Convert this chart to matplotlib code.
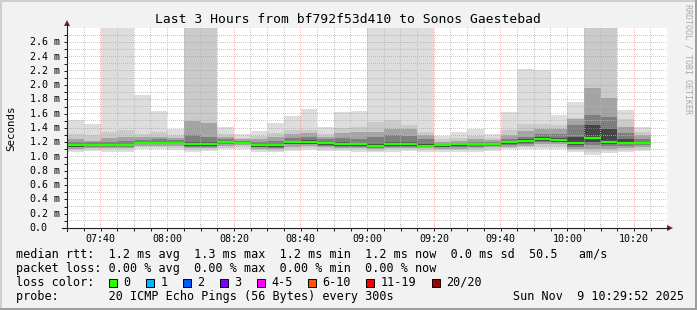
import matplotlib.pyplot as plt
import matplotlib.transforms as mtransforms
from matplotlib.lines import Line2D
from matplotlib.patches import Rectangle, Polygon
import numpy as np

plt.rcParams['font.family'] = 'DejaVu Sans Mono'

# --- data (ms), 5-minute buckets from 07:30 ---
bucket_count = 35
bucket_min = np.arange(bucket_count) * 5          # minutes after 07:30

ping_max = [1.51, 1.45, 3.2, 3.2, 1.86, 1.64, 1.38, 3.2, 3.2, 1.41, 1.31, 1.36, 1.47, 1.57, 1.67, 1.41, 1.62, 1.64,
            3.2, 3.2, 3.2, 3.2, 1.29, 1.34, 1.38, 1.32, 1.62, 2.22, 2.21, 1.58, 1.77, 3.2, 3.2, 1.65, 1.41]
ping_min = [1.06, 1.08, 1.07, 1.07, 1.10, 1.10, 1.09, 1.07, 1.08, 1.10, 1.10, 1.07, 1.06, 1.08, 1.09, 1.08, 1.08, 1.07,
            1.06, 1.07, 1.08, 1.07, 1.07, 1.07, 1.06, 1.08, 1.10, 1.10, 1.10, 1.11, 1.07, 1.02, 1.05, 1.06, 1.08]
p2_hi = [1.31, 1.30, 1.34, 1.37, 1.32, 1.34, 1.30, 3.2, 3.2, 1.31, 1.26, 1.29, 1.33, 1.37, 1.37, 1.31, 1.40, 1.42,
         1.49, 1.51, 1.44, 1.34, 1.24, 1.26, 1.29, 1.26, 1.37, 1.46, 1.46, 1.44, 1.54, 3.2, 3.2, 1.52, 1.34]
p2_lo = [1.09, 1.10, 1.10, 1.10, 1.13, 1.13, 1.12, 1.09, 1.10, 1.12, 1.13, 1.09, 1.08, 1.11, 1.12, 1.11, 1.10, 1.10,
         1.08, 1.10, 1.10, 1.09, 1.09, 1.09, 1.09, 1.11, 1.12, 1.13, 1.14, 1.14, 1.09, 1.06, 1.08, 1.09, 1.10]
p4_hi = [1.24, 1.22, 1.26, 1.28, 1.27, 1.28, 1.26, 1.50, 1.47, 1.27, 1.24, 1.24, 1.27, 1.31, 1.33, 1.27, 1.33, 1.34,
         1.34, 1.38, 1.38, 1.30, 1.21, 1.22, 1.24, 1.23, 1.30, 1.36, 1.38, 1.39, 1.52, 1.96, 1.82, 1.42, 1.30]
p4_lo = [1.11, 1.12, 1.12, 1.12, 1.15, 1.15, 1.15, 1.12, 1.12, 1.15, 1.16, 1.11, 1.10, 1.14, 1.15, 1.13, 1.12, 1.12,
         1.10, 1.12, 1.12, 1.12, 1.11, 1.11, 1.12, 1.13, 1.14, 1.15, 1.17, 1.17, 1.11, 1.10, 1.11, 1.12, 1.13]
p6_hi = [1.20, 1.20, 1.21, 1.22, 1.23, 1.24, 1.23, 1.30, 1.28, 1.24, 1.22, 1.20, 1.22, 1.26, 1.28, 1.24, 1.26, 1.25,
         1.27, 1.30, 1.29, 1.24, 1.18, 1.19, 1.20, 1.20, 1.25, 1.27, 1.31, 1.31, 1.44, 1.58, 1.55, 1.33, 1.25]
p6_lo = [1.13, 1.14, 1.14, 1.14, 1.17, 1.17, 1.17, 1.14, 1.14, 1.18, 1.18, 1.13, 1.12, 1.17, 1.17, 1.15, 1.14, 1.14,
         1.12, 1.14, 1.14, 1.13, 1.13, 1.13, 1.14, 1.15, 1.16, 1.17, 1.20, 1.20, 1.14, 1.16, 1.15, 1.15, 1.16]
p9_hi = [1.18, 1.18, 1.18, 1.18, 1.21, 1.21, 1.21, 1.20, 1.20, 1.22, 1.21, 1.18, 1.18, 1.22, 1.23, 1.21, 1.20, 1.19,
         1.18, 1.21, 1.21, 1.18, 1.17, 1.18, 1.19, 1.19, 1.22, 1.24, 1.27, 1.26, 1.28, 1.44, 1.38, 1.24, 1.21]
p9_lo = [1.13, 1.15, 1.15, 1.15, 1.17, 1.17, 1.17, 1.15, 1.15, 1.19, 1.18, 1.14, 1.13, 1.18, 1.17, 1.16, 1.15, 1.15,
         1.13, 1.15, 1.15, 1.14, 1.14, 1.15, 1.16, 1.16, 1.18, 1.19, 1.22, 1.21, 1.16, 1.20, 1.18, 1.17, 1.17]
median = [1.165, 1.165, 1.165, 1.165, 1.19, 1.19, 1.19, 1.175, 1.175, 1.20, 1.19, 1.16, 1.16, 1.20, 1.20, 1.19, 1.175, 1.17,
          1.15, 1.18, 1.18, 1.15, 1.16, 1.17, 1.18, 1.18, 1.20, 1.22, 1.25, 1.23, 1.19, 1.26, 1.21, 1.19, 1.19]

y_ticks = [0.0, 0.2, 0.4, 0.6, 0.8, 1.0, 1.2, 1.4, 1.6, 1.8, 2.0, 2.2, 2.4, 2.6]
y_minor = [0.1, 0.3, 0.5, 0.7, 0.9, 1.1, 1.3, 1.5, 1.7, 1.9, 2.1, 2.3, 2.5, 2.7]
x_ticks = [10, 30, 50, 70, 90, 110, 130, 150, 170]
x_minor = [m for m in range(5, 180, 5) if m not in x_ticks]
x_tick_labels = ['07:40', '08:00', '08:20', '08:40', '09:00', '09:20', '09:40', '10:00', '10:20']

loss_labels = ['0', '1', '2', '3', '4-5', '6-10', '11-19', '20/20']
loss_colors = ['#26ff00', '#00b8ff', '#0059ff', '#7e00ff', '#ff00ff', '#ff5500', '#ff0000', '#a00000']

title = 'Last 3 Hours from bf792f53d410 to Sonos Gaestebad'
line_rtt = 'median rtt:  1.2 ms avg  1.3 ms max  1.2 ms min  1.2 ms now  0.0 ms sd  50.5   am/s'
line_loss = 'packet loss: 0.00 % avg  0.00 % max  0.00 % min  0.00 % now'
line_probe = 'probe:       20 ICMP Echo Pings (56 Bytes) every 300s'
stamp = 'Sun Nov  9 10:29:52 2025'

# --- figure in pixel units ---
W, H = 697, 310
def fx(x):
    return x / W
def fy(y):
    return 1 - y / H

fig = plt.figure(figsize=(W / 100, H / 100), dpi=100, facecolor='#f2f2f2')

# frame shading
fig.add_artist(Rectangle((0, fy(2)), 1, 2 / H, transform=fig.transFigure, color='#cfcfcf', lw=0))
fig.add_artist(Rectangle((0, 0), 2 / W, 1, transform=fig.transFigure, color='#cfcfcf', lw=0))
fig.add_artist(Rectangle((0, 0), 1, 2 / H, transform=fig.transFigure, color='#9e9e9e', lw=0))
fig.add_artist(Rectangle((fx(W - 2), 0), 2 / W, 1, transform=fig.transFigure, color='#9e9e9e', lw=0))

x_left, x_right, y_top, y_bot = 67, 667, 28, 228
aw, ah = x_right - x_left, y_bot - y_top
ax = fig.add_axes([fx(x_left), fy(y_bot), aw / W, ah / H])
ax.set_facecolor('white')
xlim = (-8 / 60, 180 - 8 / 60)
ylim = (0, 2.8)
ax.set_xlim(*xlim)
ax.set_ylim(*ylim)
for s in ax.spines.values():
    s.set_visible(False)

# smoke bands, outer to inner
bands = [(ping_min, ping_max, '#dddddd'), (p2_lo, p2_hi, '#cacaca'), (p4_lo, p4_hi, '#a4a4a4'),
         (p6_lo, p6_hi, '#7e7e7e'), (p9_lo, p9_hi, '#454545')]
for lo, hi, col in bands:
    lo = np.array(lo)
    hi = np.array(hi)
    ax.bar(bucket_min, hi - lo, bottom=lo, width=5, align='edge', color=col, linewidth=0, zorder=1)

ax.hlines(median, bucket_min, bucket_min + 5, colors=loss_colors[0], linewidth=1.6, zorder=4)

# dotted grid as a pixel-exact overlay (1 px on / 1 px off)
grid = np.zeros((ah, aw, 4))
minor_rgba = (0.71, 0.71, 0.71, 0.75)
major_rgba = (0.91, 0.45, 0.45, 0.5)
def col_of(x):
    return int(np.floor(ax.transData.transform((x, 0))[0] - x_left))
def row_of(y):
    return int(np.floor((H - y_top) - ax.transData.transform((0, y))[1]))
for vals, rgba in ((y_minor, minor_rgba), (y_ticks[1:], major_rgba)):
    for v in vals:
        r = row_of(v)
        if 0 <= r < ah:
            grid[r, 0::2] = rgba
for vals, rgba in ((x_minor, minor_rgba), (x_ticks, major_rgba)):
    for v in vals:
        c = col_of(v)
        if 0 <= c < aw:
            grid[0::2, c] = rgba
ax.imshow(grid, extent=(xlim[0], xlim[1], ylim[0], ylim[1]), origin='upper',
          interpolation='nearest', aspect='auto', zorder=2)
ax.set_xlim(*xlim)
ax.set_ylim(*ylim)

ax.set_yticks(y_ticks)
ax.set_yticks(y_minor, minor=True)
ax.set_xticks(x_ticks)
ax.set_xticks(x_minor, minor=True)
ax.tick_params(which='both', direction='out', length=2.2, width=0.72, color='#1f1f1f',
               labelleft=False, labelbottom=False)

# axis lines and arrows
axis_col = '#1f1f1f'
arrow_col = '#801f1f'
fig.add_artist(Line2D([fx(x_left), fx(x_left)], [fy(231), fy(24)], transform=fig.transFigure, color=axis_col, lw=0.8))
fig.add_artist(Line2D([fx(62), fx(669)], [fy(y_bot), fy(y_bot)], transform=fig.transFigure, color=axis_col, lw=0.8))
fig.add_artist(Polygon([(fx(x_left - 3), fy(26)), (fx(x_left + 3), fy(26)), (fx(x_left), fy(20))],
                       closed=True, transform=fig.transFigure, color=arrow_col, lw=0))
fig.add_artist(Polygon([(fx(667), fy(y_bot - 3)), (fx(667), fy(y_bot + 3)), (fx(673), fy(y_bot))],
                       closed=True, transform=fig.transFigure, color=arrow_col, lw=0))

# tick labels
ytr = mtransforms.blended_transform_factory(fig.transFigure, ax.transData)
for v in y_ticks:
    lab = '0.0' if v == 0 else '%.1f m' % v
    ax.text(fx(29.5), v, lab, transform=ytr, ha='left', va='center', fontsize=7.2, color='black')
xtr = mtransforms.blended_transform_factory(ax.transData, fig.transFigure)
for t, lab in zip(x_ticks, x_tick_labels):
    ax.text(t, fy(238.5), lab, transform=xtr, ha='center', va='center', fontsize=7.2, color='black')

fig.text(fx(11), fy(128), 'Seconds', rotation=90, ha='center', va='center', fontsize=7.8)
fig.text(fx(348), fy(19.5), title, ha='center', va='center', fontsize=9.4)
fig.text(fx(688), fy(4), 'RRDTOOL / TOBI OETIKER', rotation=270, ha='center', va='top',
         fontsize=6, color='#a8a8a8')

# legend
fs = 8.5
fig.text(fx(16), fy(254.5), line_rtt, ha='left', va='center', fontsize=fs)
fig.text(fx(16), fy(268.5), line_loss, ha='left', va='center', fontsize=fs)
fig.text(fx(16), fy(282), 'loss color:', ha='left', va='center', fontsize=fs)
bx = 108.7
for lab, col in zip(loss_labels, loss_colors):
    fig.add_artist(Rectangle((fx(bx), fy(286.5)), 8 / W, 8 / H, transform=fig.transFigure,
                             facecolor=col, edgecolor='black', lw=0.7))
    fig.text(fx(bx + 14.6), fy(282), lab, ha='left', va='center', fontsize=fs)
    bx += 14.6 + len(lab) * 7.1 + 15.3
fig.text(fx(16), fy(296.5), line_probe, ha='left', va='center', fontsize=fs)
fig.text(fx(513), fy(296.5), stamp, ha='left', va='center', fontsize=fs)

fig.savefig('out.png', dpi=100, facecolor=fig.get_facecolor())
